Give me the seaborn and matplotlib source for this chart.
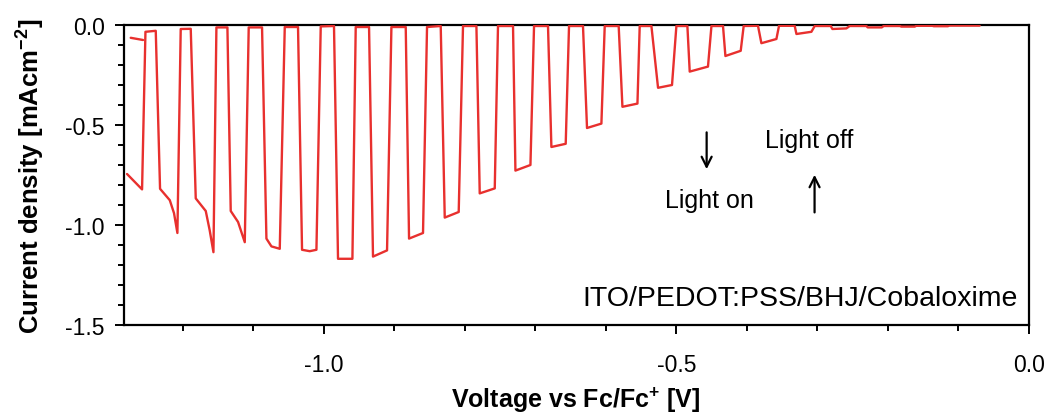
import matplotlib
matplotlib.use("Agg")
import matplotlib.pyplot as plt
import pandas as pd
import seaborn as sns
from matplotlib.ticker import MultipleLocator

# Chopped-light voltammetry trace (V vs Fc/Fc+, mA cm^-2)
voltage = [
    -1.2787, -1.2574, -1.2526, -1.2380, -1.2319, -1.2181, -1.2121, -1.2073,
    -1.2026, -1.1884, -1.1813, -1.1671, -1.1615, -1.1562, -1.1520, -1.1364,
    -1.1317, -1.1213, -1.1118, -1.1062, -1.0873, -1.0811, -1.0740, -1.0622,
    -1.0551, -1.0363, -1.0306, -1.0197, -1.0102, -1.0041, -0.9853, -0.9796,
    -0.9592, -0.9545, -0.9356, -0.9300, -0.9101, -0.9039, -0.8836, -0.8789,
    -0.8591, -0.8534, -0.8340, -0.8283, -0.8085, -0.8024, -0.7834, -0.7787,
    -0.7574, -0.7528, -0.7315, -0.7281, -0.7068, -0.7017, -0.6819, -0.6771,
    -0.6568, -0.6521, -0.6323, -0.6266, -0.6062, -0.6015, -0.5817, -0.5764,
    -0.5551, -0.5519, -0.5353, -0.5259, -0.5061, -0.4999, -0.4843, -0.4810,
    -0.4551, -0.4502, -0.4338, -0.4304, -0.4087, -0.4045, -0.3842, -0.3794,
    -0.3581, -0.3544, -0.3322, -0.3297, -0.3085, -0.3038, -0.2811, -0.2787,
    -0.2589, -0.2542, -0.2305, -0.2287, -0.2088, -0.2060, -0.1830, -0.1810,
    -0.1620, -0.1600, -0.1370, -0.1350, -0.1150, -0.1130, -0.0700,
]
current = [
    -0.745, -0.822, -0.034, -0.029, -0.819, -0.876, -0.941, -1.040,
    -0.020, -0.019, -0.867, -0.930, -1.027, -1.136, -0.012, -0.012,
    -0.930, -0.985, -1.086, -0.012, -0.012, -1.068, -1.107, -1.119,
    -0.010, -0.010, -1.124, -1.131, -1.124, -0.007, -0.005, -1.169,
    -1.169, -0.010, -0.010, -1.158, -1.127, -0.010, -0.010, -1.068,
    -1.040, -0.010, -0.005, -0.963, -0.935, -0.005, -0.005, -0.842,
    -0.817, -0.005, -0.005, -0.728, -0.700, -0.005, -0.005, -0.610,
    -0.594, -0.005, -0.005, -0.515, -0.493, -0.005, -0.005, -0.409,
    -0.393, -0.005, -0.005, -0.314, -0.300, -0.005, -0.005, -0.233,
    -0.208, -0.005, -0.005, -0.155, -0.129, -0.005, -0.004, -0.091,
    -0.070, -0.004, -0.004, -0.045, -0.034, -0.005, -0.005, -0.020,
    -0.017, -0.005, -0.005, -0.012, -0.012, -0.005, -0.005, -0.008,
    -0.008, -0.004, -0.004, -0.006, -0.006, -0.003, -0.003,
]
# short detached dark-current segment at the start
dark_voltage = [-1.2735, -1.2560]
dark_current = [-0.064, -0.075]

x_ticks = [-1.0, -0.5, 0.0]
x_tick_labels = ["-1.0", "-0.5", "0.0"]
y_ticks = [0.0, -0.5, -1.0, -1.5]
y_tick_labels = ["0.0", "-0.5", "-1.0", "-1.5"]

sns.set_theme(style="ticks")
plt.rcParams["font.family"] = ["Liberation Sans", "DejaVu Sans"]
plt.rcParams["axes.unicode_minus"] = False
plt.rcParams["mathtext.fontset"] = "custom"
plt.rcParams["mathtext.rm"] = "Liberation Sans"
plt.rcParams["mathtext.bf"] = "Liberation Sans:bold"

red = "#e8302e"
tick_fs = 16.5

fig = plt.figure(figsize=(10.5, 4.14), dpi=100)
ax = fig.add_axes([0.1181, 0.2126, 0.8619, 0.7246])

df = pd.DataFrame({"V": voltage, "J": current})
sns.lineplot(data=df, x="V", y="J", sort=False, estimator=None,
             color=red, lw=1.7, ax=ax, zorder=3)
df_dark = pd.DataFrame({"V": dark_voltage, "J": dark_current})
sns.lineplot(data=df_dark, x="V", y="J", sort=False, estimator=None,
             color=red, lw=1.7, ax=ax, zorder=3)

ax.set_xlim(-1.283, 0.0)
ax.set_ylim(-1.5, 0.0)
ax.set_xticks(x_ticks)
ax.set_xticklabels(x_tick_labels, fontsize=tick_fs)
ax.set_yticks(y_ticks)
ax.set_yticklabels(y_tick_labels, fontsize=tick_fs)
ax.xaxis.set_minor_locator(MultipleLocator(0.1))
ax.yaxis.set_minor_locator(MultipleLocator(0.1))

for s in ax.spines.values():
    s.set_visible(True)
    s.set_linewidth(1.6)
    s.set_color("black")

ax.tick_params(axis="both", which="major", direction="out", length=6.5,
               width=1.4, color="black", labelcolor="black")
ax.tick_params(axis="both", which="minor", direction="out", length=4.3,
               width=1.4, color="black")
ax.tick_params(axis="x", which="major", pad=14)
ax.tick_params(axis="y", which="major", pad=7.5)

ax.set_xlabel(r"Voltage vs Fc/Fc$^{\mathbf{+}}$ [V]", fontsize=18,
              fontweight="bold", color="black")
ax.set_ylabel(r"Current density [mAcm$^{\mathbf{-2}}$]", fontsize=18.5,
              fontweight="bold", color="black")
ax.xaxis.set_label_coords(0.4995, -0.198)
ax.yaxis.set_label_coords(-0.086, 0.5)

# annotations
ax.annotate("", xy=(-0.457, -0.735), xytext=(-0.457, -0.523),
            arrowprops=dict(arrowstyle="->", color="black", lw=1.6,
                            mutation_scale=18))
ax.annotate("", xy=(-0.304, -0.735), xytext=(-0.304, -0.951),
            arrowprops=dict(arrowstyle="->", color="black", lw=1.6,
                            mutation_scale=18))
ax.text(-0.453, -0.876, "Light on", fontsize=18, ha="center", va="center",
        color="black")
ax.text(-0.311, -0.574, "Light off", fontsize=18, ha="center", va="center",
        color="black")
ax.text(-0.016, -1.364, "ITO/PEDOT:PSS/BHJ/Cobaloxime", fontsize=20.5,
        ha="right", va="center", color="black")

fig.savefig("out.png", dpi=100)
